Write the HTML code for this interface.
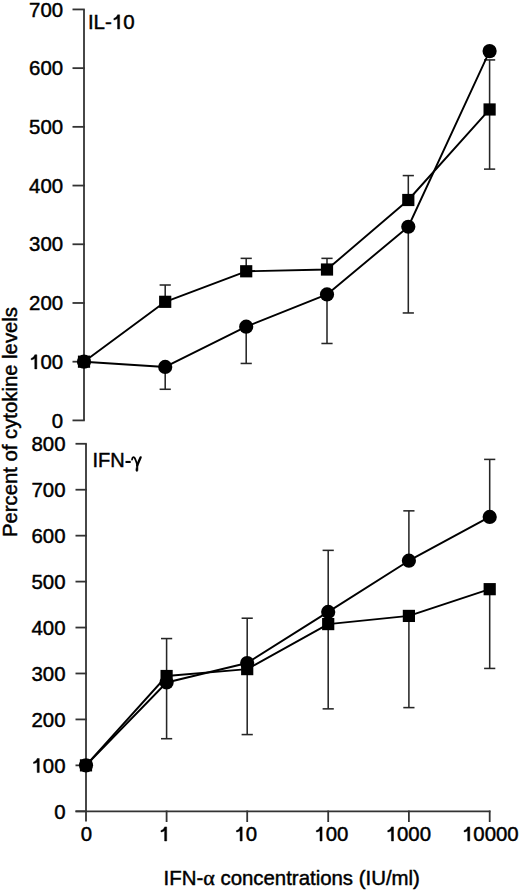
<!DOCTYPE html>
<html><head><meta charset="utf-8"><style>
html,body{margin:0;padding:0;background:#fff;}
body{width:520px;height:892px;overflow:hidden;}
svg{display:block;}
text{font-family:'Liberation Sans',sans-serif;fill:#000;stroke:#000;stroke-width:0.45px;}
.tx{font-size:20.4px;}
.lb{font-size:20px;}
.hid{fill:none;stroke:none;}
.one{fill:#000;stroke:#000;stroke-width:0.45px;}
.gr{font-family:'Liberation Serif',serif;}
.gm{fill:none;stroke:#000;stroke-linecap:round;stroke-linejoin:round;}
.gf{fill:#000;stroke:#000;stroke-width:0.5;}
.ax{stroke:#333;stroke-width:1.8;fill:none;}
.eb{stroke:#262626;stroke-width:1.55;fill:none;}
.dl{stroke:#000;stroke-width:1.9;fill:none;stroke-linejoin:round;}
circle,rect{fill:#000;}
</style></head><body>
<svg width="520" height="892" viewBox="0 0 520 892">
<line x1="84" y1="9.4" x2="84" y2="420.4" class="ax"/>
<line x1="72.5" y1="420.40" x2="84.8" y2="420.40" class="ax"/>
<text x="51.75" y="427.60" class="tx">0</text>
<line x1="72.5" y1="361.69" x2="84.8" y2="361.69" class="ax"/>
<text x="29.06" y="368.89" class="tx"><tspan class="hid">1</tspan>00</text>
<path class="one" d="M34.77,354.81 L36.85,354.81 L36.85,368.89 L34.77,368.89 L34.77,358.28 C33.75,359.30 32.53,359.71 31.10,359.81 L31.10,358.38 C32.94,357.98 34.16,356.65 34.77,354.81 Z"/>
<line x1="72.5" y1="302.98" x2="84.8" y2="302.98" class="ax"/>
<text x="29.06" y="310.18" class="tx">200</text>
<line x1="72.5" y1="244.27" x2="84.8" y2="244.27" class="ax"/>
<text x="29.06" y="251.47" class="tx">300</text>
<line x1="72.5" y1="185.56" x2="84.8" y2="185.56" class="ax"/>
<text x="29.06" y="192.76" class="tx">400</text>
<line x1="72.5" y1="126.85" x2="84.8" y2="126.85" class="ax"/>
<text x="29.06" y="134.05" class="tx">500</text>
<line x1="72.5" y1="68.14" x2="84.8" y2="68.14" class="ax"/>
<text x="29.06" y="75.34" class="tx">600</text>
<line x1="72.5" y1="9.43" x2="84.8" y2="9.43" class="ax"/>
<text x="29.06" y="16.63" class="tx">700</text>
<line x1="86" y1="443.75" x2="86" y2="821.5" class="ax"/>
<line x1="75.5" y1="811.3" x2="490.4" y2="811.3" class="ax"/>
<line x1="75.5" y1="811.30" x2="86.8" y2="811.30" class="ax"/>
<text x="54.15" y="818.50" class="tx">0</text>
<line x1="75.5" y1="765.36" x2="86.8" y2="765.36" class="ax"/>
<text x="31.46" y="772.56" class="tx"><tspan class="hid">1</tspan>00</text>
<path class="one" d="M37.17,758.48 L39.25,758.48 L39.25,772.56 L37.17,772.56 L37.17,761.95 C36.15,762.97 34.93,763.38 33.50,763.48 L33.50,762.05 C35.34,761.65 36.56,760.32 37.17,758.48 Z"/>
<line x1="75.5" y1="719.42" x2="86.8" y2="719.42" class="ax"/>
<text x="31.46" y="726.62" class="tx">200</text>
<line x1="75.5" y1="673.48" x2="86.8" y2="673.48" class="ax"/>
<text x="31.46" y="680.68" class="tx">300</text>
<line x1="75.5" y1="627.54" x2="86.8" y2="627.54" class="ax"/>
<text x="31.46" y="634.74" class="tx">400</text>
<line x1="75.5" y1="581.60" x2="86.8" y2="581.60" class="ax"/>
<text x="31.46" y="588.80" class="tx">500</text>
<line x1="75.5" y1="535.66" x2="86.8" y2="535.66" class="ax"/>
<text x="31.46" y="542.86" class="tx">600</text>
<line x1="75.5" y1="489.72" x2="86.8" y2="489.72" class="ax"/>
<text x="31.46" y="496.92" class="tx">700</text>
<line x1="75.5" y1="443.78" x2="86.8" y2="443.78" class="ax"/>
<text x="31.46" y="450.98" class="tx">800</text>
<text x="80.70" y="841.00" class="tx">0</text>
<line x1="166.6" y1="810.5" x2="166.6" y2="822" class="ax"/>
<text x="158.90" y="841.00" class="tx"><tspan class="hid">1</tspan></text>
<path class="one" d="M164.61,826.92 L166.69,826.92 L166.69,841.00 L164.61,841.00 L164.61,830.39 C163.59,831.41 162.37,831.82 160.94,831.92 L160.94,830.49 C162.78,830.09 164.00,828.76 164.61,826.92 Z"/>
<line x1="247.2" y1="810.5" x2="247.2" y2="822" class="ax"/>
<text x="234.40" y="841.00" class="tx"><tspan class="hid">1</tspan>0</text>
<path class="one" d="M240.11,826.92 L242.19,826.92 L242.19,841.00 L240.11,841.00 L240.11,830.39 C239.09,831.41 237.87,831.82 236.44,831.92 L236.44,830.49 C238.28,830.09 239.50,828.76 240.11,826.92 Z"/>
<line x1="328.2" y1="810.5" x2="328.2" y2="822" class="ax"/>
<text x="314.30" y="841.00" class="tx"><tspan class="hid">1</tspan>00</text>
<path class="one" d="M320.01,826.92 L322.09,826.92 L322.09,841.00 L320.01,841.00 L320.01,830.39 C318.99,831.41 317.77,831.82 316.34,831.92 L316.34,830.49 C318.18,830.09 319.40,828.76 320.01,826.92 Z"/>
<line x1="408.9" y1="810.5" x2="408.9" y2="822" class="ax"/>
<text x="385.70" y="841.00" class="tx"><tspan class="hid">1</tspan>000</text>
<path class="one" d="M391.41,826.92 L393.49,826.92 L393.49,841.00 L391.41,841.00 L391.41,830.39 C390.39,831.41 389.17,831.82 387.74,831.92 L387.74,830.49 C389.58,830.09 390.80,828.76 391.41,826.92 Z"/>
<line x1="489.7" y1="810.5" x2="489.7" y2="822" class="ax"/>
<text x="462.00" y="841.00" class="tx"><tspan class="hid">1</tspan>0000</text>
<path class="one" d="M467.71,826.92 L469.79,826.92 L469.79,841.00 L467.71,841.00 L467.71,830.39 C466.69,831.41 465.47,831.82 464.04,831.92 L464.04,830.49 C465.88,830.09 467.10,828.76 467.71,826.92 Z"/>
<line x1="165.2" y1="301.81" x2="165.2" y2="285.01" class="eb"/>
<line x1="159.60" y1="285.01" x2="170.80" y2="285.01" class="eb"/>
<line x1="165.2" y1="366.97" x2="165.2" y2="389.28" class="eb"/>
<line x1="159.60" y1="389.28" x2="170.80" y2="389.28" class="eb"/>
<line x1="246.2" y1="271.28" x2="246.2" y2="258.36" class="eb"/>
<line x1="240.60" y1="258.36" x2="251.80" y2="258.36" class="eb"/>
<line x1="246.2" y1="326.70" x2="246.2" y2="363.45" class="eb"/>
<line x1="240.60" y1="363.45" x2="251.80" y2="363.45" class="eb"/>
<line x1="327" y1="269.52" x2="327" y2="258.36" class="eb"/>
<line x1="321.40" y1="258.36" x2="332.60" y2="258.36" class="eb"/>
<line x1="327" y1="294.41" x2="327" y2="343.49" class="eb"/>
<line x1="321.40" y1="343.49" x2="332.60" y2="343.49" class="eb"/>
<line x1="408.3" y1="200.00" x2="408.3" y2="175.58" class="eb"/>
<line x1="402.70" y1="175.58" x2="413.90" y2="175.58" class="eb"/>
<line x1="408.3" y1="226.77" x2="408.3" y2="312.96" class="eb"/>
<line x1="402.70" y1="312.96" x2="413.90" y2="312.96" class="eb"/>
<line x1="489.6" y1="109.47" x2="489.6" y2="59.92" class="eb"/>
<line x1="484.00" y1="59.92" x2="495.20" y2="59.92" class="eb"/>
<line x1="489.6" y1="109.47" x2="489.6" y2="169.12" class="eb"/>
<line x1="484.00" y1="169.12" x2="495.20" y2="169.12" class="eb"/>
<line x1="166.6" y1="676.01" x2="166.6" y2="638.57" class="eb"/>
<line x1="161.00" y1="638.57" x2="172.20" y2="638.57" class="eb"/>
<line x1="166.6" y1="682.48" x2="166.6" y2="738.71" class="eb"/>
<line x1="161.00" y1="738.71" x2="172.20" y2="738.71" class="eb"/>
<line x1="247.2" y1="663.01" x2="247.2" y2="618.21" class="eb"/>
<line x1="241.60" y1="618.21" x2="252.80" y2="618.21" class="eb"/>
<line x1="247.2" y1="669.12" x2="247.2" y2="734.58" class="eb"/>
<line x1="241.60" y1="734.58" x2="252.80" y2="734.58" class="eb"/>
<line x1="328.2" y1="611.92" x2="328.2" y2="550.36" class="eb"/>
<line x1="322.60" y1="550.36" x2="333.80" y2="550.36" class="eb"/>
<line x1="328.2" y1="624.09" x2="328.2" y2="708.85" class="eb"/>
<line x1="322.60" y1="708.85" x2="333.80" y2="708.85" class="eb"/>
<line x1="408.9" y1="560.70" x2="408.9" y2="510.85" class="eb"/>
<line x1="403.30" y1="510.85" x2="414.50" y2="510.85" class="eb"/>
<line x1="408.9" y1="615.92" x2="408.9" y2="707.61" class="eb"/>
<line x1="403.30" y1="707.61" x2="414.50" y2="707.61" class="eb"/>
<line x1="489.7" y1="516.92" x2="489.7" y2="459.40" class="eb"/>
<line x1="484.10" y1="459.40" x2="495.30" y2="459.40" class="eb"/>
<line x1="489.7" y1="589.18" x2="489.7" y2="668.43" class="eb"/>
<line x1="484.10" y1="668.43" x2="495.30" y2="668.43" class="eb"/>
<polyline points="84,361.69 165.2,301.81 246.2,271.28 327,269.52 408.3,200.00 489.6,109.47" class="dl"/>
<polyline points="84,361.69 165.2,366.97 246.2,326.70 327,294.41 408.3,226.77 489.6,51.11" class="dl"/>
<polyline points="86,765.36 166.6,676.01 247.2,669.12 328.2,624.09 408.9,615.92 489.7,589.18" class="dl"/>
<polyline points="86,765.36 166.6,682.48 247.2,663.01 328.2,611.92 408.9,560.70 489.7,516.92" class="dl"/>
<circle cx="84" cy="361.69" r="7.1"/>
<circle cx="165.2" cy="366.97" r="7.1"/>
<circle cx="246.2" cy="326.70" r="7.1"/>
<circle cx="327" cy="294.41" r="7.1"/>
<circle cx="408.3" cy="226.77" r="7.1"/>
<circle cx="489.6" cy="51.11" r="7.1"/>
<circle cx="86" cy="765.36" r="7.1"/>
<circle cx="166.6" cy="682.48" r="7.1"/>
<circle cx="247.2" cy="663.01" r="7.1"/>
<circle cx="328.2" cy="611.92" r="7.1"/>
<circle cx="408.9" cy="560.70" r="7.1"/>
<circle cx="489.7" cy="516.92" r="7.1"/>
<rect x="77.90" y="355.59" width="12.2" height="12.2"/>
<rect x="159.10" y="295.71" width="12.2" height="12.2"/>
<rect x="240.10" y="265.18" width="12.2" height="12.2"/>
<rect x="320.90" y="263.42" width="12.2" height="12.2"/>
<rect x="402.20" y="193.90" width="12.2" height="12.2"/>
<rect x="483.50" y="103.37" width="12.2" height="12.2"/>
<rect x="79.90" y="759.26" width="12.2" height="12.2"/>
<rect x="160.50" y="669.91" width="12.2" height="12.2"/>
<rect x="241.10" y="663.02" width="12.2" height="12.2"/>
<rect x="322.10" y="617.99" width="12.2" height="12.2"/>
<rect x="402.80" y="609.82" width="12.2" height="12.2"/>
<rect x="483.60" y="583.08" width="12.2" height="12.2"/>
<text x="87.9" y="29.0" class="lb" style="font-size:20.5px">IL-<tspan class="hid">1</tspan>0</text>
<path class="one" d="M117.56,14.86 L119.65,14.86 L119.65,29.00 L117.56,29.00 L117.56,18.34 C116.54,19.37 115.31,19.77 113.87,19.88 L113.87,18.44 C115.72,18.03 116.95,16.70 117.56,14.86 Z"/>
<text x="92.5" y="466.9" class="lb">IFN</text>
<rect x="125.5" y="460.9" width="5.2" height="2.1"/>
<path d="M132.0,459.7 C132.3,457.6 133.4,456.6 134.4,457.6 C135.6,459 136.4,462 137.2,465" class="gm" style="stroke-width:1.7"/>
<path d="M140.6,457.4 C139.6,459.8 138.2,462.6 137.2,465.6" class="gm" style="stroke-width:2.4"/>
<path d="M137.3,464.6 C136.4,466.8 135.5,469.6 136.0,470.8 C136.5,471.9 137.7,471.6 137.9,470.2 C138.1,468.6 137.9,466.5 137.6,464.8 Z" class="gf"/>
<text transform="translate(17.2,537.0) rotate(-90)" x="0" y="0" class="lb" style="font-size:20.3px">Percent of cytokine levels</text>
<text x="163.6" y="884.5" class="lb" style="font-size:20.4px">IFN-<tspan class="gr" style="font-size:22px">α</tspan> concentrations (IU/ml)</text>
</svg>
</body></html>
